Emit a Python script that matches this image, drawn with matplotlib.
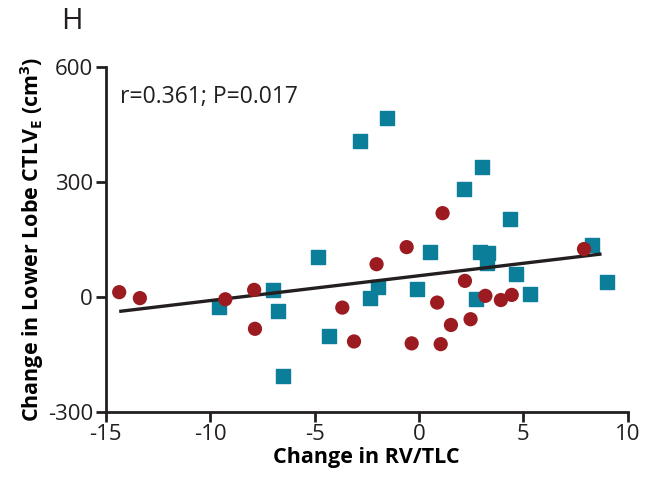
import numpy as np
import matplotlib
matplotlib.use("Agg")
import matplotlib.pyplot as plt

plt.rcParams['font.family'] = ['Open Sans', 'DejaVu Sans']
plt.rcParams['axes.unicode_minus'] = False

# Red circles
red_x = [-14.35, -13.36, -9.27, -7.89, -7.85, -3.67, -3.11, -2.03, -0.59, -0.35,
         0.87, 1.04, 1.53, 2.2, 2.47, 3.18, 3.92, 4.44, 7.9, 1.13]
red_y = [11.5, -4, -7, 17.5, -84, -28.7, -117, 84.5, 129, -122,
         -15.6, -124, -74, 41, -59, 2, -9, 4.4, 124, 217.6]

# Teal squares
teal_x = [-9.56, -6.98, -6.74, -6.53, -4.82, -4.31, -2.35, -1.98, 0.52, -0.11,
          2.73, 2.92, 3.32, 3.24, 4.63, 5.31, 8.26, 9.01, -1.55, -2.83,
          3.0, 2.15, 4.35]
teal_y = [-26, 16, -37, -206, 103, -104, -3, 26, 116, 19,
          -7, 116, 114, 87, 59, 6, 135, 39, 465, 406,
          339, 280, 202]

xticks = [-15, -10, -5, 0, 5, 10]
yticks = [-300, 0, 300, 600]

red_c = '#9B1B20'
teal_c = '#0B7F99'

fig = plt.figure(figsize=(6.52, 4.82), dpi=100)
ax = fig.add_axes([0.162, 0.146, 0.801, 0.716])

all_x = np.array(red_x + teal_x)
all_y = np.array(red_y + teal_y)
slope, intercept = np.polyfit(all_x, all_y, 1)
lx = np.array([all_x.min(), 8.74])
ax.plot(lx, slope * lx + intercept, color='#231F20', lw=2.4, zorder=3,
        solid_capstyle='butt')

ax.scatter(teal_x, teal_y, marker='s', s=100, color=teal_c, edgecolors=teal_c,
           linewidths=1.0, zorder=2)
ax.scatter(red_x, red_y, marker='o', s=105, color=red_c, edgecolors='none', zorder=4)

ax.set_xlim(-15, 10)
ax.set_ylim(-300, 600)
ax.set_xticks(xticks)
ax.set_yticks(yticks)
for s in ['top', 'right']:
    ax.spines[s].set_visible(False)
for s in ['left', 'bottom']:
    ax.spines[s].set_linewidth(2.0)
    ax.spines[s].set_color('#231F20')
ax.tick_params(direction='out', length=7, width=2.0, colors='#231F20',
               labelsize=16, pad=2)
ax.set_xlabel('Change in RV/TLC', fontsize=15.5, fontweight='bold', labelpad=1)
ax.set_ylabel('Change in Lower Lobe CTLV$_\\mathregular{E}$ (cm$^\\mathregular{3}$)',
              fontsize=15.5, fontweight='bold', labelpad=1)
ax.text(-14.3, 520, 'r=0.361; P=0.017', fontsize=16.5, ha='left', va='center',
        color='#231F20')
fig.text(0.093, 0.955, 'H', fontsize=21, ha='left', va='center', color='#231F20')

fig.savefig('out.png', dpi=100)
